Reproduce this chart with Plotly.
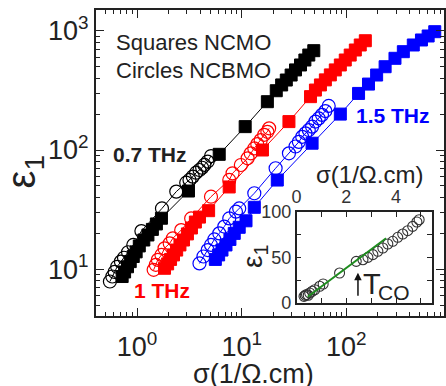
import plotly.graph_objects as go

# ---------------- data ----------------
sq07_x = [0.72, 0.76, 0.81, 0.86, 0.92, 0.98, 1.05, 1.16, 1.27, 1.40, 1.53, 1.71, 3.10, 6.1, 10.8,
          17.6, 21.4, 24.1, 26.7, 29.7, 32.7, 36.5, 40.2, 43.8, 48.9]
sq07_y = [8.7, 9.5, 10.5, 11.6, 12.8, 14.0, 15.7, 17.6, 19.4, 21.6, 24.0, 26.8, 45.3, 92, 157,
          254, 314, 351, 386, 425, 469, 516, 568, 625, 680]
ci07_x = [0.55, 0.58, 0.61, 0.645, 0.70, 0.75, 0.82, 0.92, 1.10, 1.73, 2.37, 2.95, 3.17, 3.41,
          3.67, 3.95, 4.19, 4.40, 4.73, 5.10]
ci07_y = [7.9, 8.7, 9.5, 10.5, 11.6, 12.5, 13.9, 16.0, 20.9, 32.4, 44.8, 53.2, 56.1, 59.8,
          64.5, 68, 71, 75, 80, 89]
sq10_x = [1.83, 1.96, 2.09, 2.23, 2.39, 2.57, 2.78, 3.03, 3.31, 3.61, 3.95, 4.83, 7.6, 15.8, 28.3,
          45.5, 50.7, 56.6, 63.1, 70.4, 78.5, 87.7, 97.8, 109, 122, 136, 152]
sq10_y = [10.2, 11.1, 12.1, 13.2, 14.5, 16.0, 17.6, 19.8, 22.2, 24.9, 27.4, 31, 49, 100, 173,
          280, 318, 351, 387, 426, 469, 516, 568, 625, 689, 759, 824]
ci10_x = [1.44, 1.51, 1.58, 1.71, 1.83, 2.05, 2.20, 2.64, 3.29, 5.09, 7.61, 8.18, 9.82, 11.4,
          12.2, 13.2, 14.1, 15.2, 16.4, 17.6, 18.3]
ci10_y = [9.9, 10.9, 12.0, 13.2, 15.0, 16.5, 18.2, 21.3, 26.7, 40.6, 56.1, 63.8, 74.9, 85.2,
          93.8, 103, 112, 121, 134, 142, 152]
sq15_x = [5.60, 6.02, 6.48, 7.08, 7.72, 8.49, 9.47, 11.0, 13.2, 21.9, 47.1, 87.7, 131, 163, 195,
          235, 292, 351, 437, 523, 606, 701]
sq15_y = [12.1, 13.2, 14.5, 16.0, 17.8, 20.0, 22.5, 25.5, 33.1, 56, 114, 200, 298, 357, 425,
          499, 587, 667, 759, 836, 903, 981]
ci15_x = [3.95, 4.31, 4.73, 5.09, 5.48, 6.11, 6.82, 7.61, 8.81, 9.47, 13.2, 21.1, 28.3, 32.7,
          35.2, 37.9, 40.7, 43.8, 47.1, 50.7, 54.5, 58.6, 63.1, 67.9]
ci15_y = [11.2, 12.8, 14.5, 16.0, 17.8, 20.0, 22.8, 26.7, 30.4, 32.4, 43.4, 70.3, 93.8, 107,
          117, 129, 138, 147, 157, 173, 184, 197, 212, 234]

inset_x = [0.30, 0.35, 0.40, 0.47, 0.53, 0.63, 0.73, 0.93, 1.07, 1.73, 2.40, 2.67, 2.87, 3.07,
           3.27, 3.47, 3.67, 3.87, 4.07, 4.27, 4.47, 4.67, 4.84, 4.93]
inset_y = [7, 8, 9, 8.2, 10.7, 12.6, 14.3, 18.1, 20.6, 32.7, 45.6, 47.4, 50, 53,
           56.7, 60.3, 64.7, 67.7, 72.1, 75.7, 79.4, 84.2, 89, 91.5]
fit_x = [0.45, 3.6]
fit_y = [6.5, 71]
tco_x = 2.47
tco_head_y = 33
tco_tail_y = 6

main_xticks = [1, 10, 100]
main_xticktext = ["10<sup>0</sup>", "10<sup>1</sup>", "10<sup>2</sup>"]
main_yticks = [10, 100, 1000]
main_yticktext = ["10<sup>1</sup>", "10<sup>2</sup>", "10<sup>3</sup>"]
inset_xticks = [0, 1, 2, 3, 4, 5]
inset_xticktext = ["0", "", "2", "", "4", ""]
inset_yticks = [0, 25, 50, 75, 100]
inset_yticktext = ["0", "", "50", "", "100"]

# ---------------- layout geometry ----------------
W, H = 446, 386
L, R, T, B = 96, 0, 10, 70
PW, PH = W - L - R, H - T - B


def px(x):
    return (x - L) / PW


def py(y):
    return (H - B - y) / PH


FONT = "Liberation Sans, Arial, sans-serif"
TXT = "#222222"
BLACK, RED, BLUE = "#000000", "#ff0000", "#0000ff"

fig = go.Figure()


def add_series(x, y, color, symbol, size, lw=1):
    fig.add_trace(go.Scatter(
        x=x, y=y, mode="lines+markers",
        line=dict(color=color, width=1),
        marker=dict(symbol=symbol, size=size, color=color,
                    line=dict(color=color, width=lw)),
        showlegend=False, xaxis="x", yaxis="y"))


add_series(sq07_x, sq07_y, BLACK, "square", 12)
add_series(ci07_x, ci07_y, BLACK, "circle-open", 13, 1.2)
add_series(sq10_x, sq10_y, RED, "square", 12)
add_series(ci10_x, ci10_y, RED, "circle-open", 13, 1.2)
add_series(sq15_x, sq15_y, BLUE, "square", 12)
add_series(ci15_x, ci15_y, BLUE, "circle-open", 13, 1.2)

fig.add_trace(go.Scatter(
    x=inset_x, y=inset_y, mode="markers",
    marker=dict(symbol="circle-open", size=10, color="#333333", line=dict(width=1.1)),
    showlegend=False, xaxis="x2", yaxis="y2"))
fig.add_trace(go.Scatter(
    x=fit_x, y=fit_y, mode="lines", line=dict(color="#1e8c1e", width=2),
    showlegend=False, xaxis="x2", yaxis="y2"))

axis_common = dict(showgrid=False, zeroline=False, showline=True, linecolor="#222222",
                   linewidth=2, mirror="ticks", ticks="inside", tickcolor="#222222",
                   tickwidth=1.3, ticklen=8, tickfont=dict(family=FONT, size=27, color=TXT),
                   minor=dict(ticks="inside", ticklen=4, dtick="D1", tickcolor="#222222",
                              tickwidth=1, showgrid=False))

fig.update_layout(
    width=W, height=H,
    margin=dict(l=L, r=R, t=T, b=B, pad=0),
    paper_bgcolor="white", plot_bgcolor="rgba(0,0,0,0)",
    xaxis=dict(type="log", range=[-0.3926, 2.934], tickmode="array",
               tickvals=main_xticks, ticktext=main_xticktext, ticklabelstandoff=6,
               domain=[0, 1], **axis_common),
    yaxis=dict(type="log", range=[0.6086, 3.1735], tickmode="array",
               tickvals=main_yticks, ticktext=main_yticktext, ticklabelstandoff=0,
               domain=[0, 1], **axis_common),
    xaxis2=dict(domain=[px(297.7), px(434)], range=[0, 5.45], anchor="y2", side="top",
                tickvals=inset_xticks, ticktext=inset_xticktext,
                showgrid=False, zeroline=False, showline=True, linecolor="#222222",
                linewidth=1.5, mirror="ticks", ticks="inside", ticklen=5, tickwidth=1,
                tickcolor="#222222", tickfont=dict(family=FONT, size=18, color="#333333")),
    yaxis2=dict(domain=[py(302.7), py(212)], range=[0, 100], anchor="x2",
                tickvals=inset_yticks, ticktext=inset_yticktext,
                showgrid=False, zeroline=False, showline=True, linecolor="#222222",
                linewidth=1.5, mirror="ticks", ticks="inside", ticklen=5, tickwidth=1,
                tickcolor="#222222", tickfont=dict(family=FONT, size=18, color="#333333")),
)

# white background for inset
fig.add_shape(type="rect", xref="paper", yref="paper",
              x0=px(297.7), x1=px(434), y0=py(302.7), y1=py(212),
              fillcolor="white", line=dict(width=0), layer="below")


def note(text, x, y, size, color=TXT, bold=False, xanchor="center", angle=0):
    if bold:
        text = "<b>" + text + "</b>"
    fig.add_annotation(text=text, x=px(x), y=py(y), xref="paper", yref="paper",
                       showarrow=False, xanchor=xanchor, yanchor="middle",
                       textangle=angle, font=dict(family=FONT, size=size, color=color))


note("Squares NCMO", 114, 43, 22, xanchor="left")
note("Circles NCBMO", 114, 70, 22, xanchor="left")
note("0.7 THz", 150.5, 154, 21, TXT, bold=True)
note("1 THz", 162, 290, 21, RED, bold=True)
note("1.5 THz", 394.5, 115, 21, BLUE, bold=True)
note("σ(1/Ω.cm)", 254, 374, 27)
note("ε<sub>1</sub>", 24, 172, 40, angle=-90)
note("σ(1/Ω.cm)", 371, 174, 24)
note("ε<sub>1</sub>", 255, 257, 28, angle=-90)
note("T", 374, 284, 29)
note("CO", 396, 292, 21)

fig.add_annotation(x=tco_x, y=tco_head_y, ax=tco_x, ay=tco_tail_y, xref="x2", yref="y2",
                   axref="x2", ayref="y2", text="", showarrow=True, arrowhead=2,
                   arrowsize=1, arrowwidth=1.5, arrowcolor="#111111")

fig.write_html("out.html")
